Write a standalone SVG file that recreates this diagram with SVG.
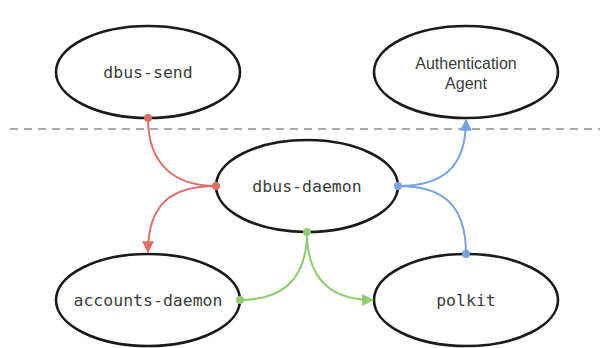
<svg xmlns="http://www.w3.org/2000/svg" width="600" height="348" viewBox="0 0 600 348">
<style>
.node ellipse{fill:#fff;stroke:#1a1a1a;stroke-width:2.6}
.mono{font-family:"DejaVu Sans Mono","Liberation Mono",monospace;font-size:16.5px;fill:#3c3c3c;text-anchor:middle;dominant-baseline:central}
.sans{font-family:"Liberation Sans",Arial,sans-serif;font-size:16px;fill:#3c3c3c;text-anchor:middle}
.red{stroke:#e36c66;fill:none;stroke-width:2}
.green{stroke:#8fcc6f;fill:none;stroke-width:2}
.blue{stroke:#74a3e6;fill:none;stroke-width:2}
</style>
<defs>
<marker id="ar" viewBox="0 0 10 10" refX="9" refY="5" markerWidth="6" markerHeight="6" orient="auto"><path d="M0,0L10,5L0,10z" fill="#e36c66"/></marker>
<marker id="ag" viewBox="0 0 10 10" refX="9" refY="5" markerWidth="6" markerHeight="6" orient="auto"><path d="M0,0L10,5L0,10z" fill="#8fcc6f"/></marker>
<marker id="ab" viewBox="0 0 10 10" refX="9" refY="5" markerWidth="6" markerHeight="6" orient="auto"><path d="M0,0L10,5L0,10z" fill="#74a3e6"/></marker>
</defs>
<rect width="600" height="348" fill="#fff"/>
<line x1="10" y1="129" x2="600" y2="129" stroke="#aaa" stroke-width="2" stroke-dasharray="8,6"/>
<g id="dbus-send" class="node"><ellipse cx="148" cy="72" rx="92" ry="46"/><text class="mono" x="148" y="72">dbus-send</text></g>
<g id="auth-agent" class="node"><ellipse cx="466" cy="72" rx="92" ry="46"/><text class="sans" x="466" y="69">Authentication</text><text class="sans" x="466" y="89">Agent</text></g>
<g id="dbus-daemon" class="node"><ellipse cx="307" cy="186" rx="91" ry="46"/><text class="mono" x="307" y="186">dbus-daemon</text></g>
<g id="accounts-daemon" class="node"><ellipse cx="148" cy="300" rx="92" ry="46"/><text class="mono" x="148" y="300">accounts-daemon</text></g>
<g id="polkit" class="node"><ellipse cx="466" cy="300" rx="92" ry="46"/><text class="mono" x="466" y="300">polkit</text></g>
<g id="connectors">
<path class="red" d="M148,118 C148,165 175,186 216,186"/>
<path class="red" d="M216,186 C170,186 148,205 148,252" marker-end="url(#ar)"/>
<circle cx="148" cy="118" r="4" fill="#e36c66"/>
<circle cx="216" cy="186" r="4" fill="#e36c66"/>
<path class="green" d="M307,232 C307,280 282,300 240,300"/>
<path class="green" d="M307,232 C307,280 332,300 373,300" marker-end="url(#ag)"/>
<circle cx="307" cy="232" r="4" fill="#8fcc6f"/>
<circle cx="240" cy="300" r="4" fill="#8fcc6f"/>
<path class="blue" d="M398,186 C440,186 466,202 466,254"/>
<path class="blue" d="M398,186 C440,186 466,170 466,120" marker-end="url(#ab)"/>
<circle cx="398" cy="186" r="4" fill="#74a3e6"/>
<circle cx="466" cy="254" r="4" fill="#74a3e6"/>
</g>
</svg>
